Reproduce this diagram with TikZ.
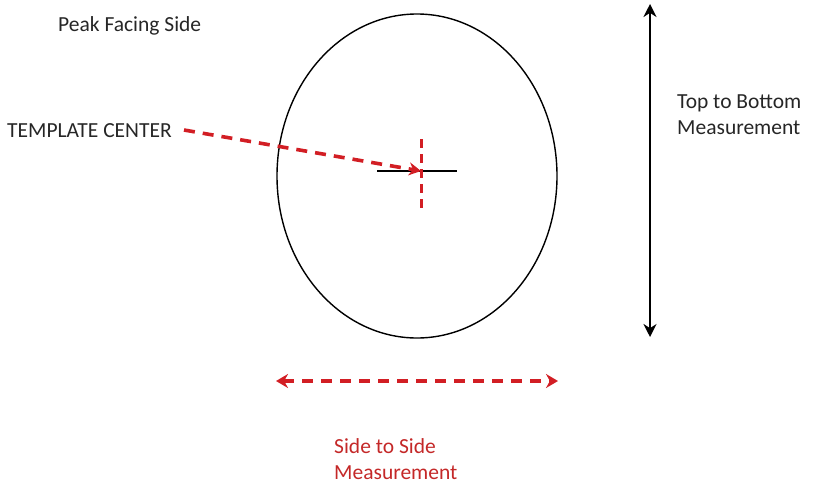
\documentclass[tikz,border=0pt]{standalone}
\usepackage{fontspec}
\setmainfont{Carlito}
\usetikzlibrary{arrows.meta,shapes.geometric}
\definecolor{dimred}{RGB}{210,30,36}
\definecolor{txtred}{RGB}{196,40,40}
\begin{document}
\begin{tikzpicture}[x=1pt,y=-1pt,
  lbl/.style={font=\fontsize{21.5}{26}\selectfont, text=black!85, inner sep=0pt},
  redlbl/.style={lbl, text=txtred, align=left},
  reddash/.style={draw=dimred, line width=3.6pt, dash pattern=on 11pt off 8pt},
  redtip/.style={-{Stealth[length=12pt,width=13pt]}},
  blackarr/.style={draw=black, line width=2.8pt, {Stealth[length=13pt,width=13pt]}-{Stealth[length=13pt,width=13pt]}}]
\useasboundingbox (0,0) rectangle (813,490);
% ellipse
\node[draw=black, line width=1.4pt, ellipse, minimum width=280pt, minimum height=324pt, inner sep=0pt] (oval) at (417,176) {};
% cross
\coordinate (hl) at (377,171);
\coordinate (hr) at (457,171);
\coordinate (vt) at (421,139);
\coordinate (vb) at (421,209);
\coordinate (ctr) at (421,171);
\draw[black, line width=2.8pt] (hl) -- (hr);
\draw[draw=dimred, line width=3pt, dash pattern=on 9pt off 6pt] (vt) -- (vb);
% labels
\node[lbl, anchor=west] (peak) at (58,26) {Peak Facing Side};
\node[lbl, anchor=west] (tc) at (7,131) {TEMPLATE CENTER};
\node[lbl, anchor=west, align=left] (tb) at (677,115) {Top to Bottom\\Measurement};
\node[redlbl, anchor=west] (ss) at (334,459) {Side to Side\\Measurement};
% template center arrow
\draw[reddash, redtip] (tc.east) ++(12,-1) coordinate (tcs) -- (ctr);
% vertical measure
\coordinate (vtop) at (650,4);
\coordinate (vbot) at (650,337);
\draw[blackarr] (vtop) -- (vbot);
% horizontal measure
\coordinate (hleft) at (276,381);
\coordinate (hright) at (558,381);
\draw[reddash, {Stealth[length=12pt,width=14pt]}-{Stealth[length=12pt,width=14pt]}] (hleft) -- (hright);
\end{tikzpicture}
\end{document}
